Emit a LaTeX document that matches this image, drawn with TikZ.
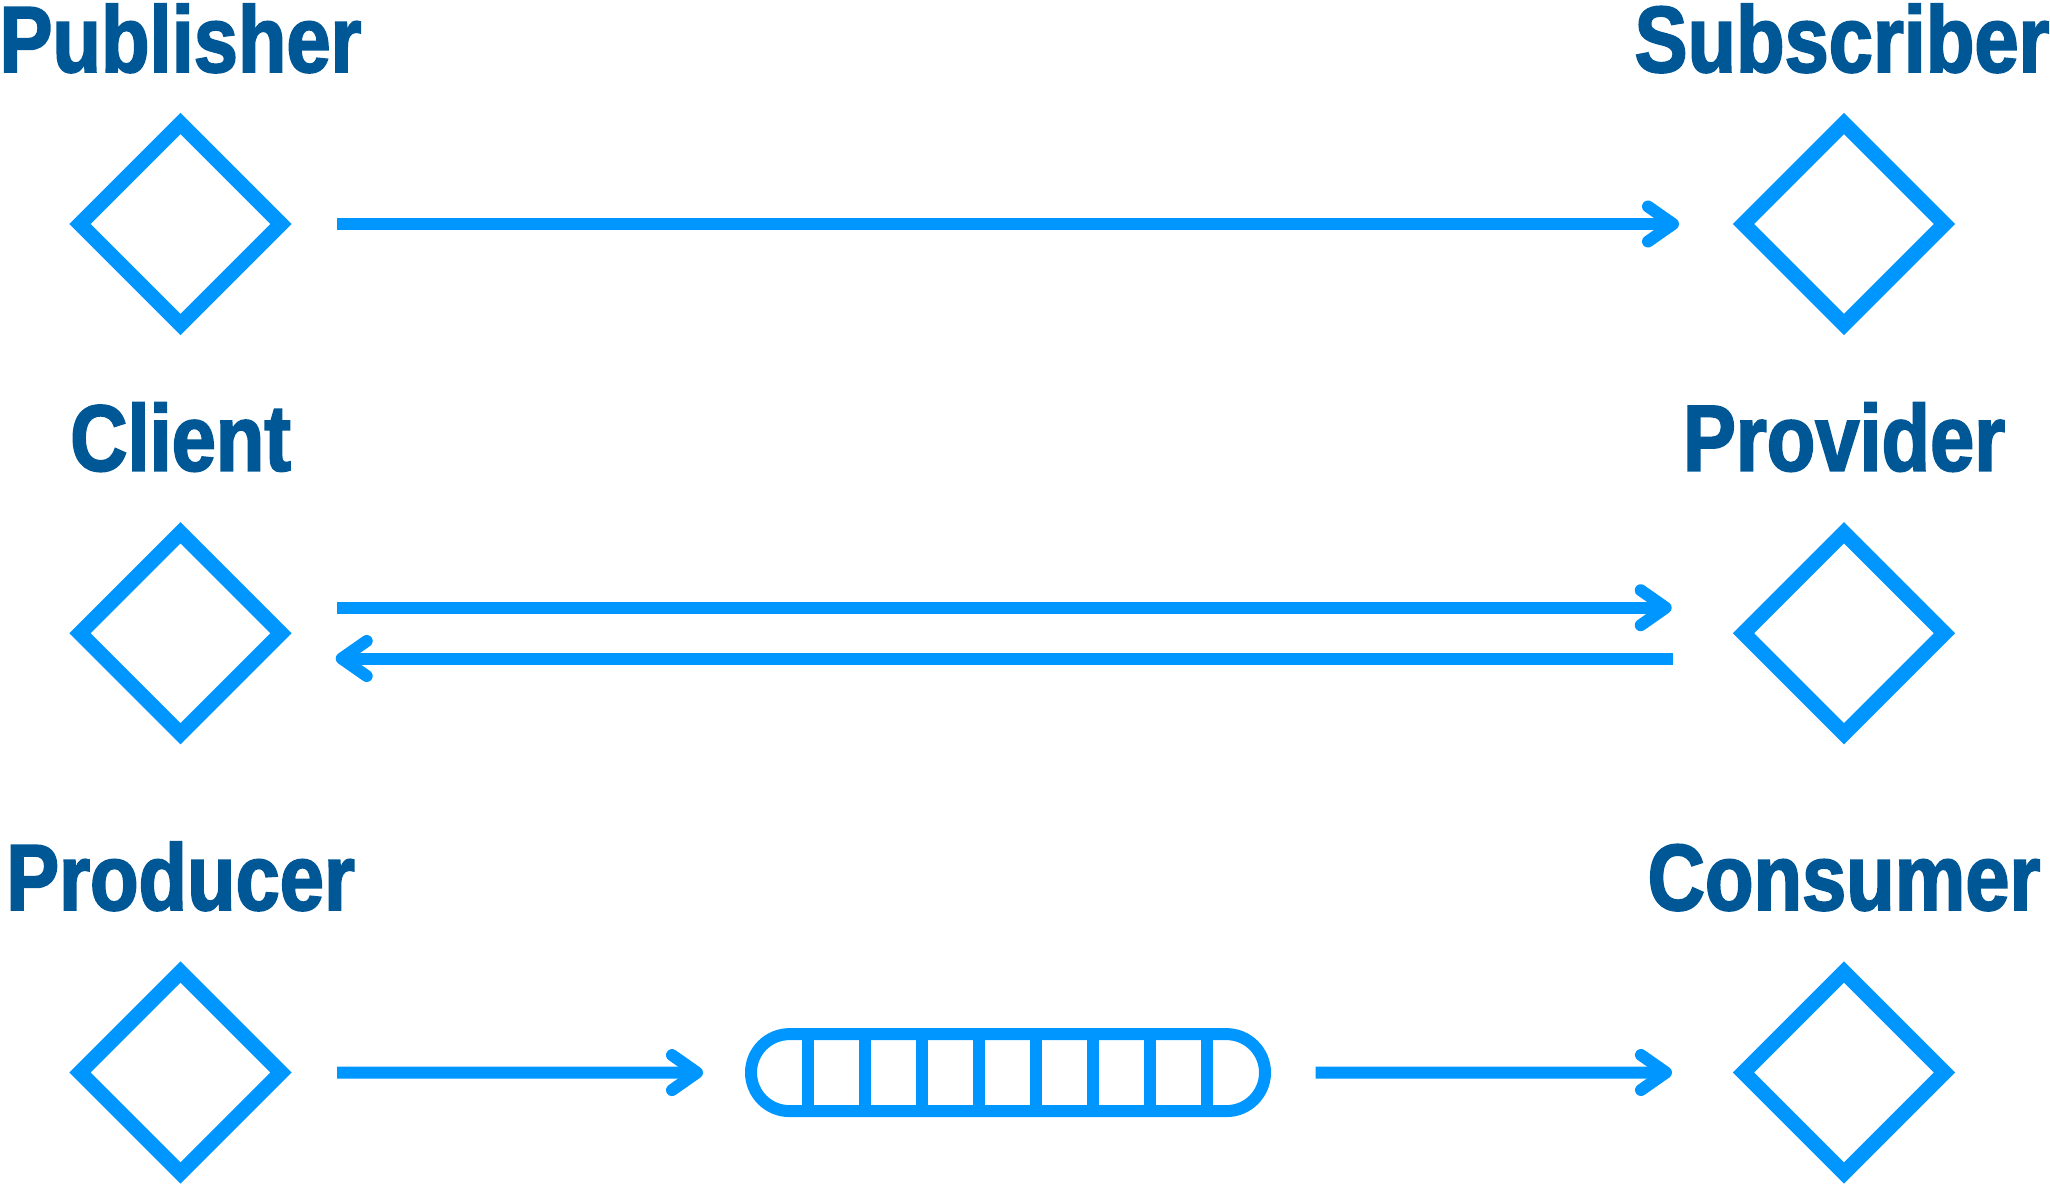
\documentclass[tikz,border=0pt]{standalone}
\usepackage{fontspec}
\newfontfamily\labelfont[FakeStretch=0.845,FakeBold=2]{Liberation Sans}
\usetikzlibrary{arrows.meta,shapes.geometric}
\definecolor{lineblue}{RGB}{0,150,255}
\definecolor{textblue}{RGB}{0,87,150}
\begin{document}
\begin{tikzpicture}[x=1pt,y=-1pt,
  role/.style={shape=diamond, draw=lineblue, line width=15pt, minimum width=201pt,
    minimum height=201pt, inner sep=0pt, outer sep=0pt, aspect=1},
  lbl/.style={anchor=base, text=textblue, inner sep=0pt,
    font=\labelfont\bfseries\fontsize{94}{100}\selectfont},
  flow/.style={draw=lineblue, line width=12pt, line cap=butt,
    -{Straight Barb[length=25pt, width=35pt, line cap=round, line join=round]}},
  queuebox/.style={draw=lineblue, line width=12pt, rounded corners=38.5pt,
    minimum width=514pt, minimum height=77pt, inner sep=0pt, outer sep=0pt},
  slot/.style={draw=lineblue, line width=12pt}
  ]
\useasboundingbox (0,0) rectangle (2050,1185);
% row 1
\node[role] (pub) at (180.5,224) {};
\node[role] (sub) at (1844,224) {};
\node[lbl] (publbl) at (180.5,72) {Publisher};
\node[lbl] (sublbl) at (1842,72) {Subscriber};
\draw[flow] ([xshift=156.5pt]pub.center) -- ([xshift=-165pt]sub.center);
% row 2
\node[role] (cli) at (180.5,633.3) {};
\node[role] (prv) at (1844,633.3) {};
\node[lbl] (clilbl) at (180.5,470.7) {Client};
\node[lbl] (prvlbl) at (1844,470.7) {Provider};
\draw[flow] ([xshift=156.5pt,yshift=25.6pt]cli.center) -- ([xshift=-172.3pt,yshift=25.6pt]prv.center);
\draw[flow] ([xshift=-171pt,yshift=-25.2pt]prv.center) -- ([xshift=155.2pt,yshift=-25.2pt]cli.center);
% row 3
\node[role] (prod) at (180.5,1072.5) {};
\node[role] (con) at (1844,1072.5) {};
\node[lbl] (prodlbl) at (180.5,910) {Producer};
\node[lbl] (conlbl) at (1844,910) {Consumer};
\node[queuebox] (queue) at (1008,1072.6) {};
\foreach \k in {0,...,7}
  \draw[slot] ([xshift={57pt+56.93pt*\k}]queue.north west) -- ([xshift={57pt+56.93pt*\k}]queue.south west);
\draw[flow] ([xshift=156.5pt]prod.center) -- ([xshift=-48pt]queue.west);
\draw[flow] ([xshift=50.7pt]queue.east) -- ([xshift=-172pt]con.center);
\end{tikzpicture}
\end{document}
